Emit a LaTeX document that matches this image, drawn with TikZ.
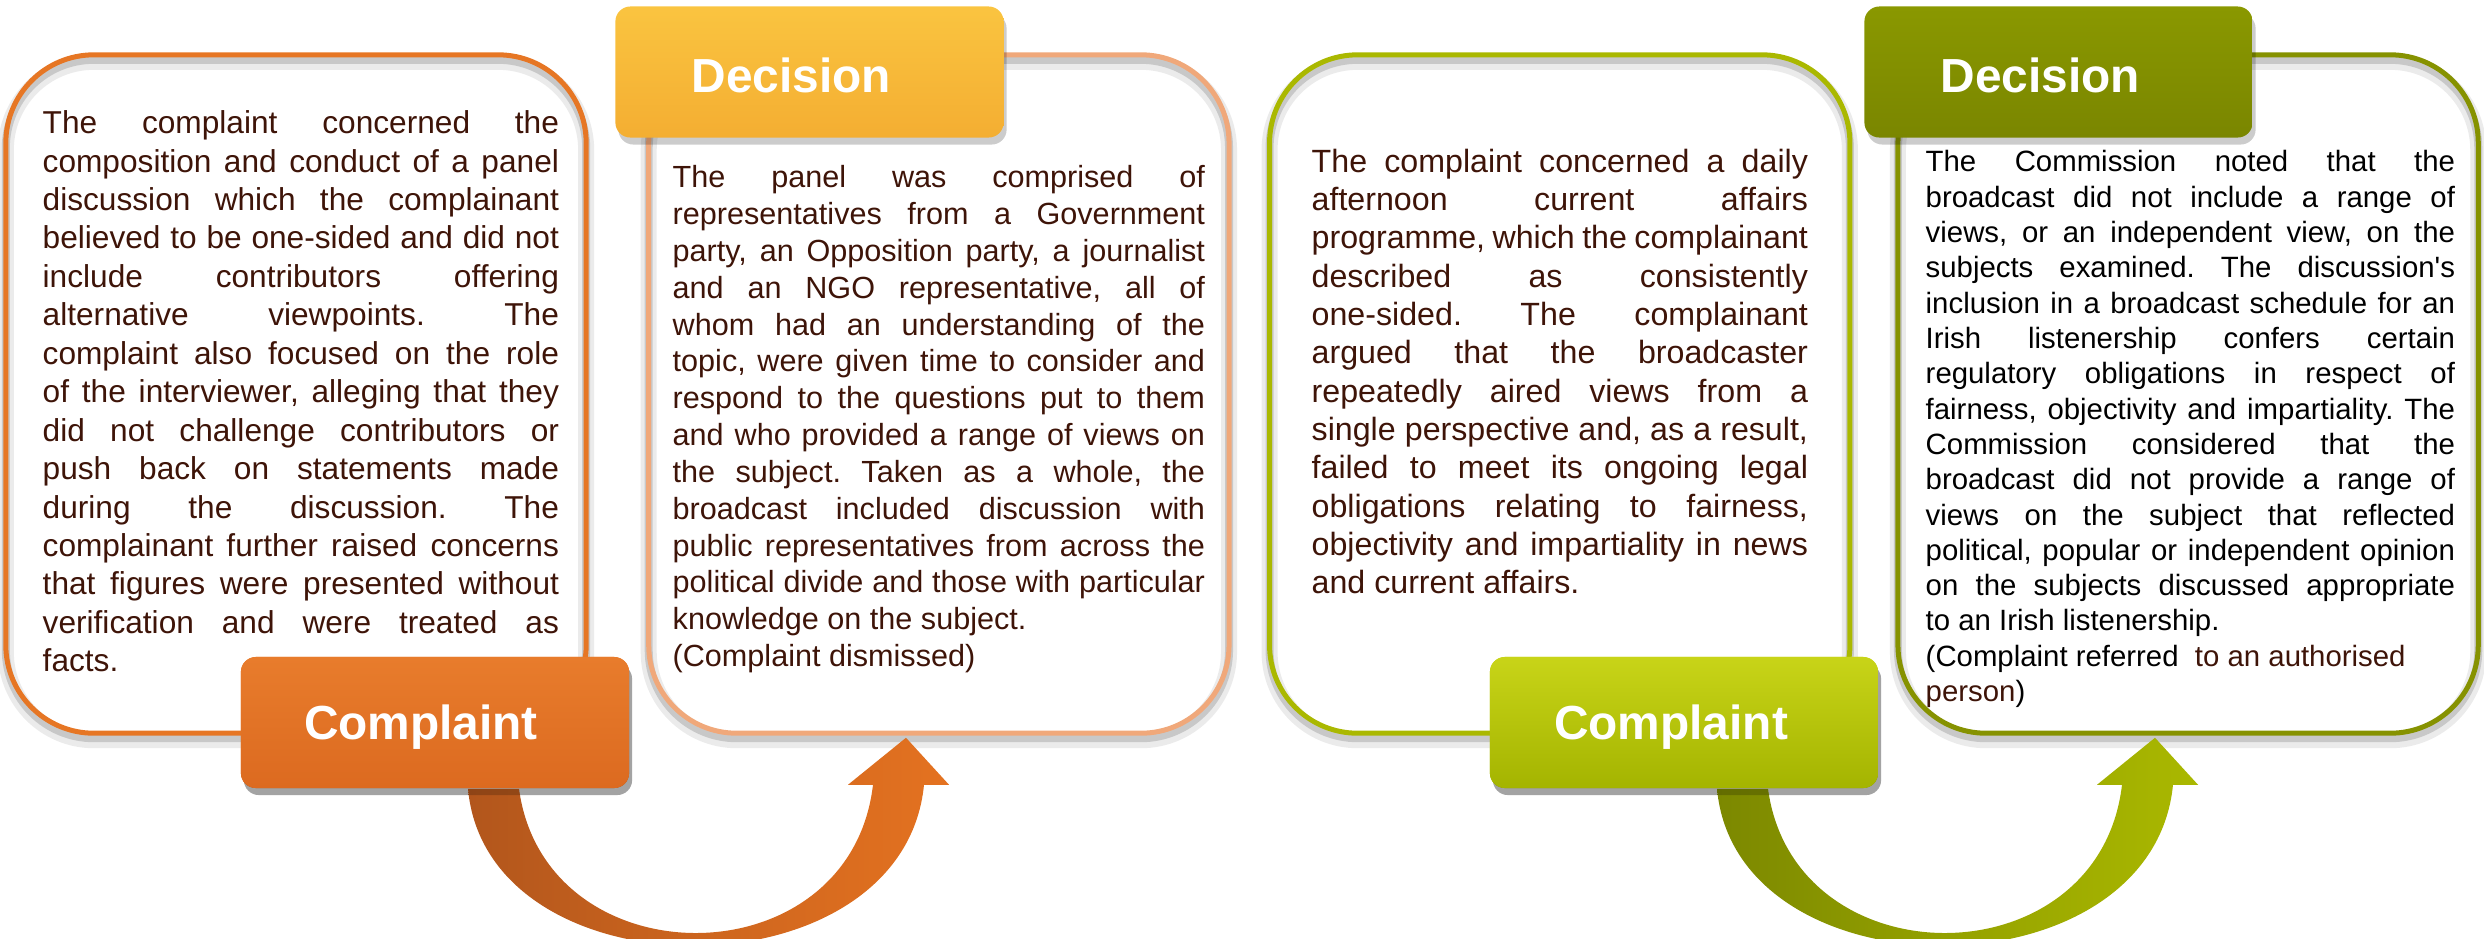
\documentclass[tikz,border=0pt]{standalone}
\usepackage{fontspec}
\setmainfont{Liberation Sans}
\usepackage{tikz}
\usetikzlibrary{calc,positioning}
\tolerance=10000
\hbadness=10000
\hyphenpenalty=10000
\exhyphenpenalty=10000
\frenchspacing
\definecolor{txtbrown}{RGB}{62,20,8}
\definecolor{lcframe}{RGB}{230,118,36}
\definecolor{ldframe}{RGB}{240,168,122}
\definecolor{rcframe}{RGB}{170,184,0}
\definecolor{rdframe}{RGB}{134,146,0}
\definecolor{lctabtop}{RGB}{232,124,44}
\definecolor{lctabbot}{RGB}{220,106,32}
\definecolor{ldtabtop}{RGB}{250,196,64}
\definecolor{ldtabbot}{RGB}{244,174,50}
\definecolor{rctabtop}{RGB}{200,212,24}
\definecolor{rctabbot}{RGB}{164,180,0}
\definecolor{rdtabtop}{RGB}{138,152,0}
\definecolor{rdtabbot}{RGB}{122,134,0}
\definecolor{lardark}{RGB}{178,86,28}
\definecolor{larlight}{RGB}{228,114,32}
\definecolor{rardark}{RGB}{124,136,0}
\definecolor{rarlight}{RGB}{170,184,0}
\tikzset{%
	framebox/.style = {rectangle, rounded corners=0.88cm, line width=0.5mm, minimum width=5.8cm, minimum height=6.78cm,
		preaction={draw=black, opacity=0.08, line width=1.6mm, transform canvas={yshift=-0.7mm}},
		preaction={draw=black, opacity=0.15, line width=0.8mm, transform canvas={yshift=-0.5mm}}}, % outline with shadow
	tabbox/.style   = {rectangle, rounded corners=0.15cm, minimum width=3.88cm, minimum height=1.31cm,
		preaction={fill=black, opacity=0.2, transform canvas={xshift=0.3mm, yshift=-0.7mm}}}, % label tab
	heading/.style  = {anchor=base, text=white, font=\fontsize{13.6}{16}\selectfont\bfseries},
	bodytext/.style = {anchor=north west, inner sep=0pt, align=justify, text=txtbrown},
}

\begin{document}
\begin{tikzpicture}[x=0.01cm,y=-0.01cm]
	\useasboundingbox (0,0) rectangle (2484,938);
	% frames
	\node [framebox,draw=lcframe] (lcbox) at (296,394) {};
	\node [framebox,draw=ldframe] (ldbox) [right of=lcbox,node distance=6.425cm] {};
	\node [framebox,draw=rcframe] (rcbox) [right of=ldbox,node distance=6.205cm] {};
	\node [framebox,draw=rdframe] (rdbox) [right of=rcbox,node distance=6.28cm] {};
	
	% tabs
	\node [tabbox,top color=lctabtop,bottom color=lctabbot] (lctab) at (435,722.5) {};
	\node [tabbox,top color=ldtabtop,bottom color=ldtabbot] (ldtab) at (809.5,72) {};
	\node [tabbox,top color=rctabtop,bottom color=rctabbot] (rctab) at (1684,722.5) {};
	\node [tabbox,top color=rdtabtop,bottom color=rdtabbot] (rdtab) at (2058.5,72) {};
	
	% curved arrows, from the complaint tab to the decision frame
	\begin{scope}
		\clip (0,0) rectangle (2484,938);
		\begin{scope}[shift={(lctab.south)}]
			\shade [left color=lardark,right color=larlight,middle color=lardark!45!larlight]
				(33,0) .. controls (52,210) and (468,210) .. (489,-4) -- (514,-4) -- (471,-51) -- (413,-4) -- (438,-4)
				.. controls (415,193) and (110,193) .. (84,0) -- cycle;
		\end{scope}
		\begin{scope}[shift={(rctab.south)}]
			\shade [left color=rardark,right color=rarlight,middle color=rardark!45!rarlight]
				(33,0) .. controls (52,210) and (468,210) .. (489,-4) -- (514,-4) -- (471,-51) -- (413,-4) -- (438,-4)
				.. controls (415,193) and (110,193) .. (84,0) -- cycle;
		\end{scope}
	\end{scope}
	\node [tabbox,top color=lctabtop,bottom color=lctabbot] at (lctab) {};
	\node [tabbox,top color=rctabtop,bottom color=rctabbot] at (rctab) {};
	
	% tab labels
	\node [heading] (lchead) at ([xshift=-0.14cm,yshift=-0.17cm]lctab.center) {Complaint};
	\node [heading] (ldhead) at ([xshift=-0.18cm,yshift=-0.2cm]ldtab.center) {Decision};
	\node [heading] (rchead) at ([xshift=-0.13cm,yshift=-0.17cm]rctab.center) {Complaint};
	\node [heading] (rdhead) at ([xshift=-0.18cm,yshift=-0.2cm]rdtab.center) {Decision};
	
	% texts
	\node [bodytext,text width=5.16cm,font=\fontsize{9}{10.93}\selectfont] (lctext) at (42,110)
		{The complaint concerned the\linebreak
		composition and conduct of a panel\linebreak
		discussion which the complainant\linebreak
		believed to be one-sided and did not\linebreak
		include contributors offering\linebreak
		alternative viewpoints. The\linebreak
		complaint also focused on the role\linebreak
		of the interviewer, alleging that they\linebreak
		did not challenge contributors or\linebreak
		push back on statements made\linebreak
		during the discussion. The\linebreak
		complainant further raised concerns\linebreak
		that figures were presented without\linebreak
		verification and were treated as\linebreak
		facts.};
	\node [bodytext,text width=5.32cm,font=\fontsize{8.7}{10.47}\selectfont] (ldtext) at (672,165)
		{The panel was comprised of\linebreak
		representatives from a Government\linebreak
		party, an Opposition party, a journalist\linebreak
		and an NGO representative, all of\linebreak
		whom had an understanding of the\linebreak
		topic, were given time to consider and\linebreak
		respond to the questions put to them\linebreak
		and who provided a range of views on\linebreak
		the subject. Taken as a whole, the\linebreak
		broadcast included discussion with\linebreak
		public representatives from across the\linebreak
		political divide and those with particular\linebreak
		knowledge on the subject.\\
		(Complaint dismissed)};
	\node [bodytext,text width=4.96cm,font=\fontsize{9.15}{10.9}\selectfont] (rctext) at (1311,148)
		{The complaint concerned a daily\linebreak
		afternoon current affairs\linebreak
		programme, which the complainant\linebreak
		described as consistently\linebreak
		one-sided. The complainant\linebreak
		argued that the broadcaster\linebreak
		repeatedly aired views from a\linebreak
		single perspective and, as a result,\linebreak
		failed to meet its ongoing legal\linebreak
		obligations relating to fairness,\linebreak
		objectivity and impartiality in news\linebreak
		and current affairs.};
	\node [bodytext,text=black,text width=5.29cm,font=\fontsize{8.35}{10.04}\selectfont] (rdtext) at (1925,150)
		{The Commission noted that the\linebreak
		broadcast did not include a range of\linebreak
		views, or an independent view, on the\linebreak
		subjects examined. The discussion\textquotesingle s\linebreak
		inclusion in a broadcast schedule for an\linebreak
		Irish listenership confers certain\linebreak
		regulatory obligations in respect of\linebreak
		fairness, objectivity and impartiality. The\linebreak
		Commission considered that the\linebreak
		broadcast did not provide a range of\linebreak
		views on the subject that reflected\linebreak
		political, popular or independent opinion\linebreak
		on the subjects discussed appropriate\linebreak
		to an Irish listenership.\\
		(Complaint referred\ \ {\color{txtbrown}to an authorised\\
		person})};
\end{tikzpicture}
\end{document}
